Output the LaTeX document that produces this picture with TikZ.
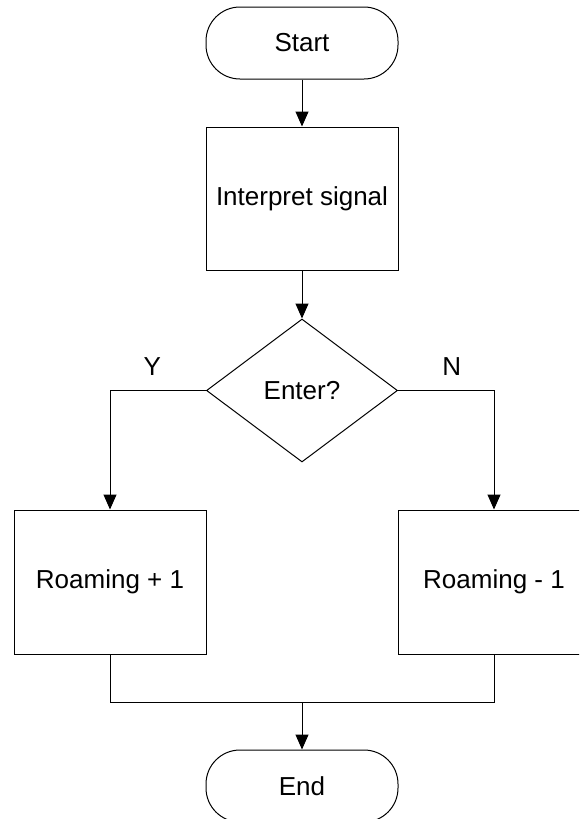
\documentclass[tikz,border=0pt]{standalone}
\usepackage{fontspec}
\setmainfont{Liberation Sans}
\usetikzlibrary{shapes.geometric,arrows.meta,positioning,calc}
\tikzset{
  every node/.style={font=\fontsize{13}{15}\selectfont},
  term/.style={
      draw,
      rectangle,
      rounded corners=17pt,
      minimum width=96pt,
      minimum height=36pt,
      text centered,
  },
  proc/.style={
      draw,
      rectangle,
      minimum width=96pt,
      minimum height=72pt,
      text centered,
  },
  decide/.style={
      draw,
      diamond,
      inner sep=0pt,
      minimum width=95.5pt,
      minimum height=71.5pt,
  },
  arr/.style={-{Triangle[width=6.5pt,length=7.5pt]}}
}

\begin{document}
\begin{tikzpicture}[line width=0.5pt]
    \clip (0,0) rectangle (289.5pt,-409.5pt);
    \node[term] (start) at (151pt,-21.5pt) {Start};
    \node[proc, minimum height=71.5pt, below=23.5pt of start] (interp) {Interpret signal};
    \node[decide, below=24pt of interp] (enter) {Enter?};
    \node[proc, below=23.5pt of enter.south, xshift=-96pt] (plus) {Roaming + 1};
    \node[proc, below=23.5pt of enter.south, xshift=96pt] (minus) {Roaming - 1};
    \coordinate[below=24pt of plus.south] (j1);
    \coordinate (merge) at (enter |- j1);
    \node[term, below=23.5pt of merge] (end) {End};

    \draw[arr] (start) -- (interp);
    \draw[arr] (interp) -- (enter);
    \draw[arr] (enter.west) -| node[pos=0.28, above=4pt] (yes) {Y} (plus.north);
    \draw[arr] (enter.east) -| node[pos=0.28, above=4pt] (no) {N} (minus.north);
    \draw (plus.south) -- (j1) -| (minus.south);
    \draw[arr] (merge) -- (end);
\end{tikzpicture}
\end{document}
